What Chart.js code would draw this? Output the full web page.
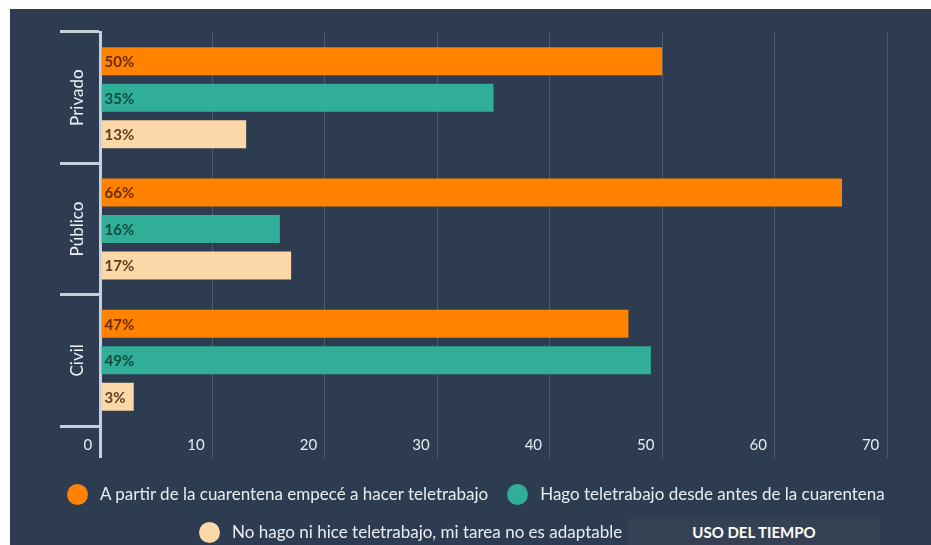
<!DOCTYPE html>
<html>
<head>
<meta charset="utf-8">
<script src="https://cdn.jsdelivr.net/npm/chart.js@4.4.1/dist/chart.umd.min.js"></script>
<style>
  html, body { margin: 0; padding: 0; background: #fff; }
  #panel { position: absolute; left: 10px; top: 9px; width: 921px; height: 536px; background: #2d3c51; overflow: hidden; font-family: Lato, sans-serif; }
  #chart { position: absolute; left: 0; top: 0; }
  #legend { position: absolute; left: 57px; top: 474px; width: 860px; color: #e9edf2; font-size: 17px; line-height: 22px; }
  #legend .row { display: flex; align-items: center; height: 22px; margin-bottom: 16px; }
  #legend .item { display: inline-flex; align-items: center; margin-right: 19px; white-space: nowrap; }
  #legend .dot { width: 21px; height: 21px; border-radius: 50%; margin-right: 12px; flex: none; }
  #uso { position: absolute; left: 618px; top: 508px; width: 252px; height: 28px; background: #354152; color: #fff; font-weight: bold; font-size: 15px; line-height: 30px; text-align: center; }
</style>
</head>
<body>
<div id="panel">
  <canvas id="chart" width="921" height="536"></canvas>
  <div id="legend"></div>
  <div id="uso">USO DEL TIEMPO</div>
</div>
<script>
// sectors on the y axis
var sectors = ['Privado', 'Público', 'Civil'];

// series (percent of respondents)
var seriesNames = [
  'A partir de la cuarentena empecé a hacer teletrabajo',
  'Hago teletrabajo desde antes de la cuarentena',
  'No hago ni hice teletrabajo, mi tarea no es adaptable'
];
var startedInQuarantine = [50, 66, 47];
var alreadyRemote = [35, 16, 49];
var notAdaptable = [13, 17, 3];

var xMin = 0, xMax = 70, xStep = 10;

var barColors = ['#ff8200', '#30ae98', '#fcd7a8'];
var labelColors = ['#6e2a05', '#0d4a3f', '#5c3d20'];
var axisLight = '#c6d0dc';

// value labels sitting at the start of every bar
var barLabels = {
  id: 'barLabels',
  afterDatasetsDraw: function (chart) {
    var ctx = chart.ctx;
    ctx.save();
    ctx.font = 'bold 15px Lato';
    ctx.textBaseline = 'middle';
    ctx.textAlign = 'left';
    chart.data.datasets.forEach(function (ds, i) {
      ctx.fillStyle = labelColors[i];
      chart.getDatasetMeta(i).data.forEach(function (bar, j) {
        ctx.fillText(ds.data[j] + '%', bar.base + 3, bar.y + 1);
      });
    });
    ctx.restore();
  }
};

var chart = new Chart(document.getElementById('chart'), {
  type: 'bar',
  data: {
    labels: sectors,
    datasets: [
      { label: seriesNames[0], data: startedInQuarantine, backgroundColor: barColors[0] },
      { label: seriesNames[1], data: alreadyRemote, backgroundColor: barColors[1] },
      { label: seriesNames[2], data: notAdaptable, backgroundColor: barColors[2] }
    ]
  },
  options: {
    indexAxis: 'y',
    responsive: false,
    animation: false,
    categoryPercentage: 0.834,
    barPercentage: 0.767,
    layout: { padding: { top: 23, right: 44, left: 0, bottom: 87 } },
    plugins: {
      legend: { display: false },
      tooltip: { enabled: false }
    },
    scales: {
      x: {
        min: xMin,
        max: xMax,
        border: { display: false },
        grid: {
          color: function (c) { return c.index === 0 ? axisLight : 'rgba(255,255,255,0.17)'; },
          lineWidth: function (c) { return c.index === 0 ? 3 : 1; },
          tickLength: 32
        },
        ticks: {
          stepSize: xStep,
          align: 'end',
          padding: -22,
          color: '#e9edf2',
          font: { family: 'Lato', size: 15 },
          callback: function (v) { return v + '  '; }
        },
        afterFit: function (s) { s.height = 32; }
      },
      y: {
        border: { display: true, color: axisLight, width: 3 },
        grid: {
          offset: true,
          drawOnChartArea: false,
          drawTicks: true,
          tickLength: 40,
          color: axisLight,
          lineWidth: 3
        },
        ticks: {
          minRotation: 90,
          maxRotation: 90,
          crossAlign: 'center',
          padding: -46,
          color: '#eef1f5',
          font: { family: 'Lato', size: 17 }
        },
        afterFit: function (s) { s.width = 90; }
      }
    }
  },
  plugins: [barLabels]
});

// legend built from the chart's datasets: two on the first row, one below
(function () {
  var box = document.getElementById('legend');
  var rows = [[0, 1], [2]];
  rows.forEach(function (idx, r) {
    var row = document.createElement('div');
    row.className = 'row';
    if (r === 1) row.style.paddingLeft = '132px';
    idx.forEach(function (i) {
      var ds = chart.data.datasets[i];
      var item = document.createElement('span');
      item.className = 'item';
      var dot = document.createElement('span');
      dot.className = 'dot';
      dot.style.background = ds.backgroundColor;
      item.appendChild(dot);
      item.appendChild(document.createTextNode(ds.label));
      row.appendChild(item);
    });
    box.appendChild(row);
  });
})();
</script>
</body>
</html>
